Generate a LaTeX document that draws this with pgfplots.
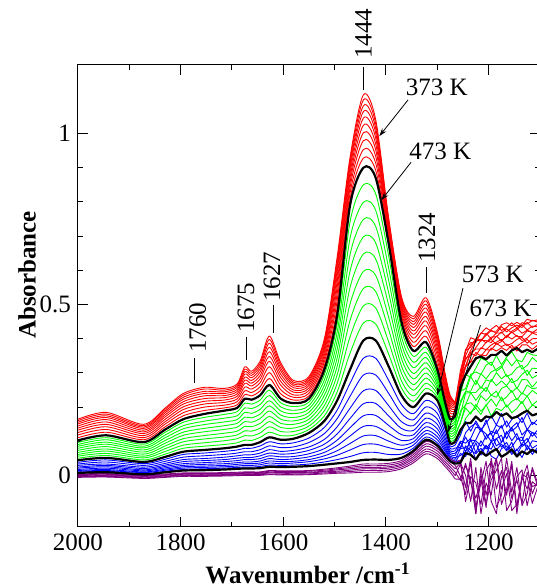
\documentclass[border=0pt]{standalone}
\usepackage{fontspec}
\setmainfont{Liberation Serif}
\usepackage{pgfplots}
\usepackage{pgfplotstable}
\pgfplotsset{compat=1.18}
\usetikzlibrary{arrows.meta}
\definecolor{specred}{HTML}{FF0000}
\definecolor{specgreen}{HTML}{00FF00}
\definecolor{specblue}{HTML}{0000FF}
\definecolor{specpurple}{HTML}{800080}

% 373-463 K (red), first column is 373 K
\pgfplotstableread{
w r1 r2 r3 r4 r5 r6 r7 r8 r9 r10
2000 0.165 0.161 0.156 0.151 0.145 0.139 0.133 0.126 0.119 0.111
1945 0.185 0.180 0.175 0.170 0.164 0.157 0.150 0.143 0.135 0.127
1872 0.150 0.146 0.142 0.138 0.133 0.128 0.123 0.117 0.111 0.105
1830 0.198 0.194 0.189 0.184 0.178 0.172 0.165 0.158 0.151 0.143
1795 0.240 0.235 0.229 0.223 0.216 0.209 0.201 0.193 0.184 0.175
1755 0.258 0.253 0.246 0.240 0.233 0.225 0.217 0.209 0.200 0.190
1715 0.255 0.250 0.245 0.240 0.234 0.228 0.221 0.214 0.206 0.198
1690 0.268 0.263 0.258 0.252 0.246 0.239 0.232 0.224 0.216 0.207
1675 0.318 0.311 0.304 0.297 0.288 0.279 0.270 0.259 0.248 0.237
1662 0.305 0.299 0.293 0.286 0.278 0.270 0.262 0.253 0.243 0.233
1645 0.335 0.328 0.320 0.312 0.303 0.293 0.283 0.272 0.260 0.248
1627 0.408 0.398 0.387 0.375 0.362 0.348 0.334 0.318 0.301 0.284
1605 0.330 0.323 0.314 0.306 0.296 0.286 0.275 0.264 0.251 0.239
1580 0.278 0.273 0.268 0.263 0.257 0.250 0.244 0.236 0.229 0.221
1550 0.290 0.285 0.280 0.275 0.269 0.263 0.256 0.249 0.241 0.233
1520 0.400 0.394 0.387 0.379 0.371 0.362 0.353 0.343 0.333 0.322
1495 0.640 0.628 0.615 0.601 0.586 0.569 0.552 0.533 0.513 0.492
1470 0.930 0.920 0.909 0.898 0.885 0.871 0.857 0.842 0.825 0.808
1444 1.113 1.098 1.081 1.064 1.045 1.024 1.002 0.979 0.953 0.928
1420 1.040 1.028 1.015 1.001 0.986 0.969 0.952 0.933 0.913 0.892
1395 0.755 0.750 0.744 0.738 0.731 0.724 0.716 0.708 0.699 0.690
1370 0.524 0.520 0.514 0.508 0.501 0.494 0.486 0.478 0.469 0.460
1347 0.465 0.458 0.450 0.442 0.433 0.423 0.413 0.402 0.390 0.378
1322 0.520 0.511 0.501 0.490 0.478 0.465 0.452 0.438 0.423 0.407
1300 0.420 0.412 0.404 0.395 0.385 0.374 0.363 0.351 0.338 0.324
1285 0.300 0.294 0.287 0.280 0.273 0.264 0.256 0.246 0.236 0.226
1275 0.235 0.230 0.225 0.219 0.213 0.206 0.199 0.191 0.183 0.174
1265 0.215 0.212 0.209 0.206 0.202 0.198 0.194 0.190 0.185 0.180
1255 0.307 0.291 0.295 0.280 0.291 0.280 0.288 0.268 0.274 0.254
1245 0.363 0.368 0.366 0.351 0.337 0.344 0.321 0.318 0.320 0.318
1235 0.403 0.389 0.375 0.382 0.366 0.352 0.360 0.358 0.334 0.332
1225 0.397 0.389 0.400 0.397 0.393 0.374 0.370 0.350 0.360 0.339
1215 0.416 0.417 0.394 0.393 0.399 0.395 0.370 0.374 0.349 0.353
1205 0.432 0.413 0.410 0.416 0.388 0.395 0.390 0.368 0.368 0.350
1195 0.422 0.428 0.425 0.400 0.405 0.389 0.398 0.382 0.367 0.373
1185 0.422 0.439 0.416 0.417 0.406 0.408 0.384 0.390 0.386 0.364
1175 0.441 0.424 0.436 0.417 0.420 0.394 0.392 0.398 0.377 0.374
1165 0.447 0.433 0.420 0.429 0.403 0.408 0.409 0.380 0.385 0.366
1155 0.438 0.447 0.432 0.417 0.422 0.420 0.399 0.386 0.372 0.381
1145 0.448 0.432 0.440 0.426 0.431 0.407 0.410 0.398 0.378 0.364
1135 0.439 0.447 0.433 0.441 0.416 0.406 0.395 0.404 0.389 0.382
1125 0.457 0.443 0.448 0.426 0.425 0.423 0.402 0.387 0.398 0.382
1115 0.452 0.454 0.433 0.437 0.418 0.419 0.417 0.400 0.384 0.369
1105 0.455 0.449 0.442 0.435 0.428 0.419 0.411 0.401 0.391 0.381
}\redtab

% 483-563 K (green)
\pgfplotstableread{
w g1 g2 g3 g4 g5 g6 g7 g8 g9
2000 0.097 0.091 0.086 0.080 0.074 0.068 0.062 0.057 0.051
1945 0.111 0.105 0.098 0.092 0.085 0.078 0.072 0.065 0.059
1872 0.092 0.086 0.081 0.075 0.069 0.063 0.057 0.052 0.046
1830 0.127 0.119 0.111 0.103 0.095 0.087 0.079 0.071 0.063
1795 0.156 0.146 0.137 0.127 0.118 0.108 0.099 0.089 0.080
1755 0.170 0.159 0.149 0.138 0.128 0.117 0.107 0.096 0.086
1715 0.179 0.168 0.157 0.146 0.135 0.124 0.113 0.102 0.091
1690 0.187 0.175 0.164 0.153 0.142 0.130 0.119 0.108 0.096
1675 0.212 0.198 0.185 0.171 0.158 0.144 0.131 0.117 0.104
1662 0.209 0.196 0.182 0.169 0.156 0.143 0.130 0.116 0.103
1645 0.221 0.208 0.194 0.180 0.167 0.153 0.139 0.125 0.112
1627 0.250 0.234 0.219 0.204 0.189 0.173 0.158 0.143 0.127
1605 0.213 0.201 0.189 0.177 0.165 0.153 0.141 0.129 0.117
1580 0.202 0.191 0.181 0.170 0.160 0.150 0.139 0.129 0.118
1550 0.215 0.205 0.195 0.185 0.175 0.165 0.155 0.145 0.135
1520 0.295 0.280 0.265 0.250 0.235 0.220 0.205 0.190 0.175
1495 0.445 0.420 0.395 0.370 0.345 0.320 0.295 0.270 0.245
1470 0.742 0.694 0.646 0.598 0.550 0.502 0.454 0.406 0.358
1444 0.850 0.799 0.749 0.698 0.648 0.597 0.547 0.496 0.446
1420 0.823 0.775 0.728 0.680 0.633 0.585 0.538 0.490 0.443
1395 0.644 0.608 0.572 0.536 0.500 0.464 0.428 0.392 0.356
1370 0.429 0.407 0.386 0.364 0.343 0.321 0.300 0.278 0.257
1347 0.349 0.332 0.316 0.299 0.283 0.266 0.250 0.233 0.217
1322 0.375 0.360 0.345 0.330 0.315 0.300 0.285 0.270 0.255
1300 0.301 0.292 0.283 0.274 0.265 0.256 0.247 0.238 0.229
1285 0.209 0.202 0.196 0.189 0.183 0.176 0.170 0.163 0.157
1275 0.158 0.151 0.144 0.137 0.130 0.123 0.116 0.109 0.102
1265 0.168 0.160 0.153 0.145 0.138 0.130 0.123 0.115 0.108
1255 0.240 0.247 0.210 0.217 0.178 0.189 0.154 0.155 0.122
1245 0.295 0.254 0.245 0.246 0.241 0.206 0.209 0.198 0.167
1235 0.288 0.296 0.289 0.247 0.243 0.243 0.213 0.180 0.186
1225 0.314 0.303 0.266 0.279 0.243 0.220 0.199 0.208 0.197
1215 0.343 0.296 0.298 0.255 0.260 0.241 0.234 0.188 0.179
1205 0.336 0.323 0.283 0.280 0.246 0.258 0.219 0.205 0.208
1195 0.322 0.332 0.303 0.275 0.281 0.235 0.235 0.224 0.174
1185 0.351 0.305 0.311 0.301 0.263 0.229 0.247 0.203 0.197
1175 0.324 0.316 0.321 0.283 0.277 0.255 0.219 0.230 0.190
1165 0.346 0.341 0.289 0.295 0.263 0.262 0.230 0.200 0.207
1155 0.362 0.321 0.297 0.272 0.284 0.244 0.249 0.217 0.184
1145 0.338 0.339 0.315 0.278 0.254 0.257 0.221 0.226 0.196
1135 0.333 0.311 0.322 0.296 0.281 0.238 0.242 0.211 0.217
1125 0.360 0.322 0.293 0.308 0.280 0.265 0.232 0.233 0.189
1115 0.353 0.345 0.314 0.285 0.259 0.254 0.249 0.206 0.206
1105 0.351 0.332 0.313 0.294 0.276 0.257 0.238 0.219 0.200
}\greentab

% 583-663 K (blue)
\pgfplotstableread{
w b1 b2 b3 b4 b5 b6 b7 b8 b9
2000 0.039 0.034 0.030 0.025 0.022 0.018 0.015 0.013 0.010
1945 0.046 0.040 0.034 0.030 0.026 0.022 0.018 0.015 0.013
1872 0.035 0.030 0.025 0.021 0.017 0.014 0.011 0.009 0.006
1830 0.048 0.042 0.036 0.031 0.027 0.023 0.019 0.016 0.013
1795 0.062 0.054 0.047 0.041 0.035 0.030 0.026 0.022 0.018
1755 0.066 0.058 0.050 0.044 0.038 0.033 0.028 0.024 0.020
1715 0.071 0.062 0.054 0.047 0.041 0.035 0.030 0.026 0.022
1690 0.075 0.066 0.058 0.051 0.044 0.038 0.033 0.028 0.024
1675 0.080 0.070 0.061 0.053 0.047 0.040 0.035 0.030 0.025
1662 0.080 0.070 0.061 0.053 0.047 0.040 0.035 0.030 0.025
1645 0.087 0.076 0.066 0.058 0.050 0.043 0.037 0.032 0.027
1627 0.099 0.087 0.076 0.066 0.058 0.050 0.043 0.037 0.031
1605 0.093 0.082 0.071 0.063 0.055 0.047 0.041 0.035 0.030
1580 0.096 0.084 0.074 0.065 0.056 0.049 0.042 0.037 0.031
1550 0.110 0.097 0.084 0.074 0.064 0.055 0.047 0.041 0.034
1520 0.141 0.123 0.106 0.092 0.079 0.068 0.058 0.049 0.040
1495 0.192 0.167 0.143 0.122 0.104 0.088 0.073 0.060 0.047
1470 0.270 0.232 0.197 0.167 0.140 0.116 0.094 0.075 0.056
1444 0.343 0.294 0.248 0.210 0.175 0.144 0.116 0.091 0.067
1420 0.343 0.294 0.249 0.211 0.176 0.144 0.117 0.092 0.068
1395 0.279 0.241 0.205 0.175 0.147 0.123 0.101 0.082 0.062
1370 0.208 0.182 0.158 0.138 0.120 0.103 0.089 0.076 0.063
1347 0.181 0.163 0.146 0.132 0.119 0.108 0.098 0.089 0.080
1322 0.220 0.201 0.183 0.168 0.155 0.143 0.132 0.123 0.113
1300 0.200 0.182 0.165 0.150 0.137 0.125 0.114 0.105 0.096
1285 0.137 0.124 0.112 0.102 0.093 0.085 0.078 0.072 0.065
1275 0.087 0.080 0.073 0.067 0.062 0.057 0.053 0.049 0.045
1265 0.090 0.081 0.073 0.066 0.059 0.053 0.048 0.043 0.039
1255 0.118 0.082 0.101 0.080 0.098 0.059 0.079 0.040 0.065
1245 0.159 0.125 0.095 0.113 0.070 0.069 0.082 0.087 0.056
1235 0.130 0.143 0.109 0.083 0.104 0.107 0.065 0.074 0.087
1225 0.160 0.153 0.141 0.105 0.102 0.067 0.096 0.064 0.048
1215 0.134 0.128 0.139 0.135 0.086 0.102 0.060 0.080 0.071
1205 0.153 0.163 0.106 0.122 0.116 0.078 0.087 0.058 0.089
1195 0.175 0.119 0.130 0.100 0.124 0.099 0.077 0.100 0.057
1185 0.148 0.148 0.123 0.134 0.087 0.108 0.109 0.075 0.048
1175 0.182 0.139 0.147 0.097 0.097 0.118 0.083 0.092 0.079
1165 0.142 0.160 0.107 0.123 0.129 0.076 0.097 0.072 0.087
1155 0.164 0.130 0.141 0.141 0.102 0.084 0.068 0.098 0.062
1145 0.175 0.143 0.155 0.109 0.123 0.106 0.074 0.058 0.078
1135 0.155 0.170 0.119 0.102 0.085 0.113 0.094 0.091 0.053
1125 0.183 0.134 0.135 0.135 0.098 0.075 0.109 0.089 0.086
1115 0.149 0.156 0.115 0.126 0.127 0.102 0.080 0.062 0.071
1105 0.164 0.148 0.133 0.121 0.109 0.099 0.090 0.082 0.074
}\bluetab

% above 673 K (purple)
\pgfplotstableread{
w p1 p2 p3 p4 p5 p6
2000 0.005 0.003 0.001 -0.001 -0.003 -0.005
1945 0.006 0.004 0.002 0.000 -0.002 -0.004
1872 0.002 0.000 -0.002 -0.004 -0.006 -0.008
1830 0.005 0.003 0.001 -0.001 -0.003 -0.005
1795 0.008 0.006 0.004 0.002 0.000 -0.002
1755 0.008 0.006 0.004 0.002 0.000 -0.002
1715 0.009 0.007 0.005 0.003 0.001 -0.001
1690 0.010 0.008 0.006 0.004 0.002 0.000
1675 0.011 0.009 0.007 0.005 0.003 0.001
1662 0.011 0.009 0.007 0.005 0.003 0.001
1645 0.011 0.009 0.007 0.005 0.003 0.001
1627 0.015 0.013 0.010 0.008 0.005 0.003
1605 0.014 0.012 0.009 0.007 0.004 0.002
1580 0.014 0.012 0.009 0.007 0.004 0.002
1550 0.015 0.013 0.010 0.008 0.005 0.003
1520 0.019 0.016 0.013 0.011 0.008 0.005
1495 0.023 0.020 0.017 0.013 0.010 0.007
1470 0.028 0.024 0.020 0.016 0.012 0.008
1444 0.034 0.029 0.024 0.020 0.015 0.010
1420 0.034 0.029 0.024 0.020 0.015 0.010
1395 0.036 0.031 0.026 0.022 0.017 0.012
1370 0.044 0.039 0.034 0.030 0.025 0.020
1347 0.067 0.061 0.055 0.049 0.043 0.037
1322 0.100 0.093 0.086 0.078 0.071 0.064
1300 0.086 0.079 0.072 0.064 0.057 0.050
1285 0.063 0.056 0.049 0.041 0.034 0.027
1275 0.050 0.042 0.034 0.026 0.018 0.010
1265 0.040 0.030 0.020 0.010 0.000 -0.010
1255 0.046 -0.002 0.038 -0.014 0.034 -0.010
1245 -0.076 -0.055 0.001 0.036 -0.034 0.029
1235 -0.003 0.042 -0.075 -0.021 0.051 -0.012
1225 -0.021 -0.111 0.024 -0.066 -0.093 -0.111
1215 -0.084 0.006 -0.111 -0.012 -0.021 0.024
1205 0.015 -0.084 -0.021 -0.093 0.042 -0.057
1195 0.042 -0.012 -0.057 0.051 -0.075 0.006
1185 -0.093 0.015 0.051 -0.039 -0.111 0.051
1175 -0.057 0.051 -0.039 0.015 -0.003 -0.084
1165 0.051 -0.102 0.006 -0.057 0.024 -0.039
1155 -0.048 -0.075 -0.102 0.033 -0.066 0.042
1145 0.024 -0.003 -0.084 -0.111 -0.012 -0.093
1135 -0.088 0.017 -0.011 0.003 -0.081 -0.004
1125 -0.053 -0.088 0.031 -0.004 0.010 -0.039
1115 0.024 -0.018 -0.053 -0.081 -0.032 0.017
1105 -0.020 -0.030 -0.015 -0.035 -0.025 -0.028
}\purpletab

% 473, 573 and 673 K (black)
\pgfplotstableread{
w k1 k2 k3
2000 0.103 0.045 0.008
1945 0.118 0.052 0.010
1872 0.098 0.040 0.004
1830 0.135 0.055 0.010
1795 0.165 0.070 0.015
1755 0.180 0.075 0.016
1715 0.190 0.080 0.018
1690 0.198 0.085 0.020
1675 0.225 0.090 0.021
1662 0.222 0.090 0.021
1645 0.235 0.098 0.022
1627 0.265 0.112 0.026
1605 0.225 0.105 0.025
1580 0.212 0.108 0.026
1550 0.225 0.125 0.028
1520 0.310 0.160 0.032
1495 0.470 0.220 0.036
1470 0.790 0.310 0.040
1444 0.900 0.395 0.046
1420 0.870 0.395 0.047
1395 0.680 0.320 0.046
1370 0.450 0.235 0.052
1347 0.365 0.200 0.072
1322 0.390 0.240 0.105
1300 0.310 0.220 0.088
1285 0.215 0.150 0.060
1275 0.165 0.095 0.042
1265 0.175 0.100 0.035
1255 0.259 0.133 0.038
1245 0.294 0.154 0.066
1235 0.319 0.154 0.061
1225 0.343 0.173 0.047
1215 0.348 0.159 0.070
1205 0.340 0.173 0.058
1195 0.353 0.170 0.069
1185 0.353 0.186 0.078
1175 0.365 0.175 0.055
1165 0.351 0.182 0.064
1155 0.366 0.168 0.077
1145 0.373 0.172 0.056
1135 0.361 0.182 0.071
1125 0.368 0.190 0.063
1115 0.361 0.176 0.076
1105 0.370 0.181 0.067
}\blacktab

\begin{document}
\begin{tikzpicture}[font=\fontsize{12.5}{14}\selectfont]
\begin{axis}[
  at={(0,0)},anchor=south west,
  scale only axis,width=231pt,height=231pt,
  x dir=reverse,xmin=1100,xmax=2000,ymin=-0.15,ymax=1.2,
  xtick={1200,1400,1600,1800,2000},minor x tick num=1,
  ytick={0,0.5,1},minor y tick num=4,
  tick align=inside,tick pos=both,
  major tick length=5pt,minor tick length=2.5pt,
  every tick/.style={black,line width=0.5pt},
  axis line style={line width=0.5pt},
  /pgf/number format/assume math mode=true,
  /pgf/number format/1000 sep={},
  ticklabel style={font=\fontsize{12.5}{14}\selectfont},
  clip=false,
  every axis plot/.append style={line join=round},
  % smooth part of each spectrum, and the noisy part below 1265 cm-1
  sm/.style={smooth,restrict x to domain=1260:2000},
  ns/.style={restrict x to domain=1100:1270},
]
\pgfplotsinvokeforeach{1,...,10}{
  \addplot[specred,line width=0.45pt,sm] table[x index=0,y index=#1]{\redtab};
  \addplot[specred,line width=0.45pt,ns] table[x index=0,y index=#1]{\redtab};
}
\pgfplotsinvokeforeach{1,...,9}{
  \addplot[specgreen,line width=0.45pt,sm] table[x index=0,y index=#1]{\greentab};
  \addplot[specgreen,line width=0.45pt,ns] table[x index=0,y index=#1]{\greentab};
}
\pgfplotsinvokeforeach{1,...,9}{
  \addplot[specblue,line width=0.45pt,sm] table[x index=0,y index=#1]{\bluetab};
  \addplot[specblue,line width=0.45pt,ns] table[x index=0,y index=#1]{\bluetab};
}
\pgfplotsinvokeforeach{1,...,6}{
  \addplot[specpurple,line width=0.45pt,sm] table[x index=0,y index=#1]{\purpletab};
  \addplot[specpurple,line width=0.45pt,ns] table[x index=0,y index=#1]{\purpletab};
}
\pgfplotsinvokeforeach{1,...,3}{
  \addplot[black,line width=1.1pt,sm] table[x index=0,y index=#1]{\blacktab};
  \addplot[black,line width=1.1pt,ns] table[x index=0,y index=#1]{\blacktab};
}

% peak labels
\draw[line width=0.5pt] (axis cs:1444,1.195) -- (axis cs:1444,1.127);
\node[rotate=90,anchor=west,inner sep=0pt] at (axis cs:1444,1.217) {1444};
\draw[line width=0.5pt] (axis cs:1321,0.609) -- (axis cs:1321,0.533);
\node[rotate=90,anchor=west,inner sep=0pt] at (axis cs:1320,0.621) {1324};
\draw[line width=0.5pt] (axis cs:1774,0.343) -- (axis cs:1774,0.270);
\node[rotate=90,anchor=west,inner sep=0pt] at (axis cs:1767,0.358) {1760};
\draw[line width=0.5pt] (axis cs:1671,0.405) -- (axis cs:1671,0.338);
\node[rotate=90,anchor=west,inner sep=0pt] at (axis cs:1673,0.416) {1675};
\draw[line width=0.5pt] (axis cs:1620,0.498) -- (axis cs:1620,0.416);
\node[rotate=90,anchor=west,inner sep=0pt] at (axis cs:1622,0.507) {1627};

% temperature labels
\node at (axis cs:1301,1.134) {373 K};
\draw[line width=0.4pt,-{Stealth[length=4pt,width=2.6pt]}] (axis cs:1357,1.098) -- (axis cs:1413,0.992);
\node at (axis cs:1294,0.949) {473 K};
\draw[line width=0.4pt,-{Stealth[length=4pt,width=2.6pt]}] (axis cs:1351,0.916) -- (axis cs:1409,0.805);
\node at (axis cs:1192,0.589) {573 K};
\draw[line width=0.4pt,-{Stealth[length=4pt,width=2.6pt]}] (axis cs:1250,0.548) -- (axis cs:1300,0.235);
\node at (axis cs:1177,0.488) {673 K};
\draw[line width=0.4pt,-{Stealth[length=4pt,width=2.6pt]}] (axis cs:1216,0.440) -- (axis cs:1279,0.127);
\end{axis}

\node[rotate=90,font=\fontsize{12.5}{14}\selectfont\bfseries] at (-25.5pt,126pt) {Absorbance};
\node[anchor=base,font=\fontsize{12.5}{14}\selectfont\bfseries] at (115pt,-28pt) {Wavenumber /cm\textsuperscript{-1}};

\pgfresetboundingbox
\path (-39pt,-30.5pt) rectangle (229pt,263.5pt);
\end{tikzpicture}
\end{document}
